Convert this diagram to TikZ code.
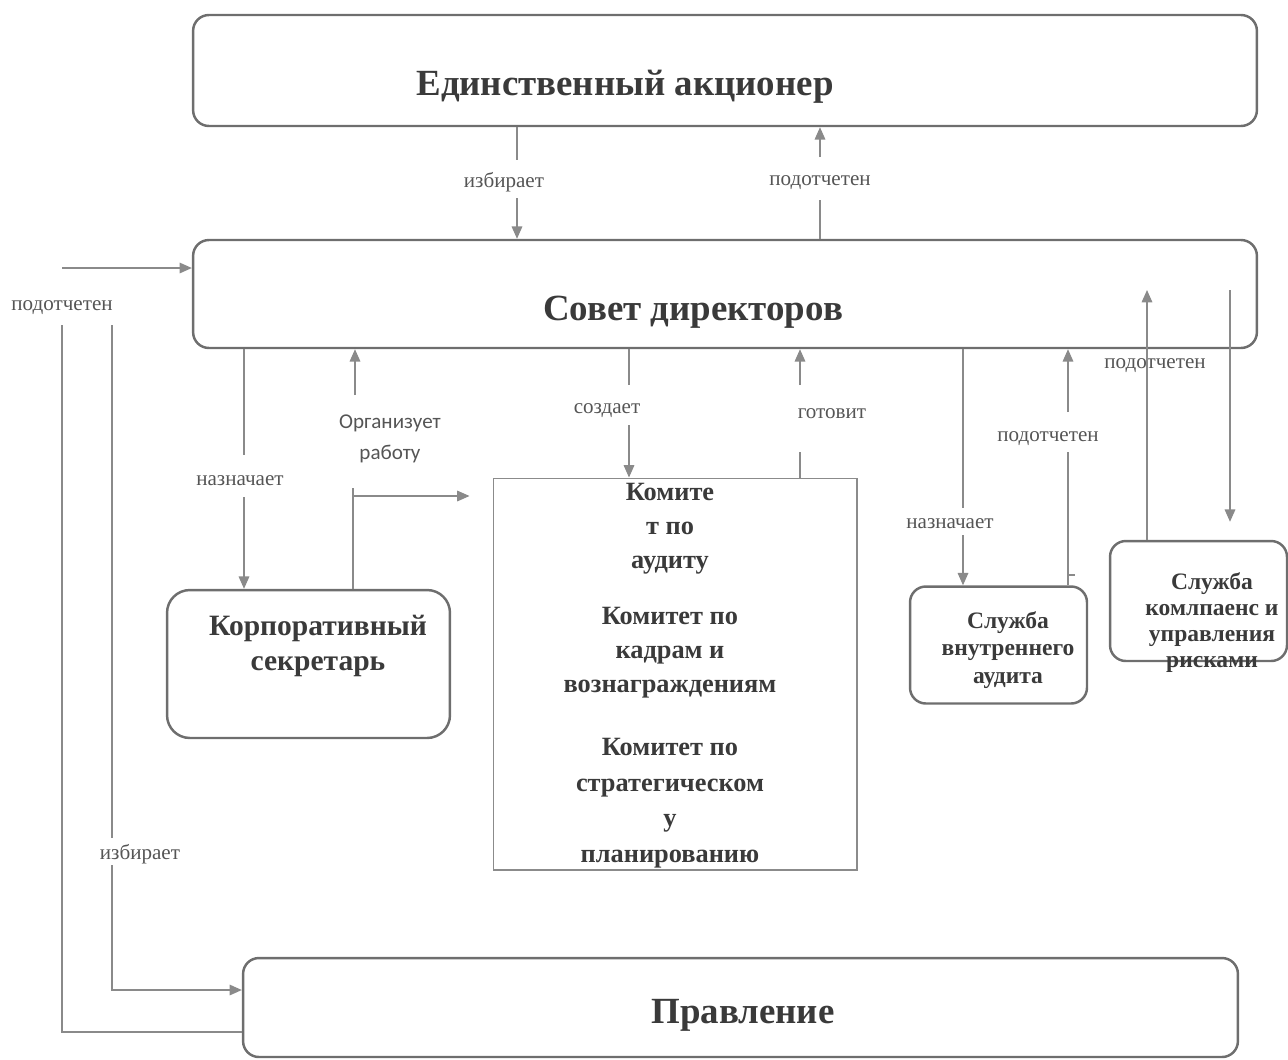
\documentclass[tikz,border=0pt]{standalone}
\usepackage{fontspec}
\setmainfont{Liberation Serif}
\newfontfamily\calib{Carlito}
\usetikzlibrary{arrows.meta}
\definecolor{boxc}{HTML}{6E6E6E}
\definecolor{linec}{HTML}{8A8A8A}
\definecolor{txt}{HTML}{3A3A3A}
\definecolor{labc}{HTML}{555555}
\tikzset{
  rbox/.style={draw=boxc, line width=1.4pt, rounded corners=9pt, inner sep=0pt},
  sqbox/.style={draw=boxc!80, line width=0.6pt, inner sep=0pt},
  title/.style={font=\bfseries\fontsize{21}{26}\selectfont, text=txt, inner sep=0pt},
  kstext/.style={font=\bfseries\fontsize{16.8}{19.8}\selectfont, text=txt, align=center, inner sep=0pt},
  komtext/.style={font=\bfseries\fontsize{15}{19.3}\selectfont, text=txt, align=center, inner sep=0pt},
  komtextb/.style={font=\bfseries\fontsize{15}{20.2}\selectfont, text=txt, align=center, inner sep=0pt},
  smtext/.style={font=\bfseries\fontsize{13.4}{15.8}\selectfont, text=txt, align=center, inner sep=0pt},
  smtextb/.style={font=\bfseries\fontsize{13.4}{14.8}\selectfont, text=txt, align=center, inner sep=0pt},
  lab/.style={font=\fontsize{12}{14}\selectfont, text=labc, inner sep=1pt},
  sanslab/.style={font=\calib\fontsize{12}{17.6}\selectfont, text=labc, align=center, inner sep=1pt},
  ln/.style={draw=linec, line width=0.8pt},
  arr/.style={ln, -{Triangle[length=7pt,width=6pt]}}
}
\begin{document}
\begin{tikzpicture}[x=0.02cm,y=-0.02cm]
\useasboundingbox (0,0) rectangle (1288,1059);

% boxes
\node[rbox, minimum width=21.28cm, minimum height=2.22cm] (sh) at (725,70.5) {};
\node[title] (shT) at (625,87) {Единственный акционер};
\node[rbox, minimum width=21.28cm, minimum height=2.16cm] (sd) at (725,294) {};
\node[title] (sdT) at (693,312) {Совет директоров};
\node[rbox, rounded corners=13pt, minimum width=5.66cm, minimum height=2.96cm] (ks) at (308.5,664) {};
\node[kstext] (ksT) at (318,646) {Корпоративный\\секретарь};
\node[sqbox, minimum width=7.28cm, minimum height=7.84cm] (kom) at (675,674) {};
\node[komtext] (k1) at (670,529) {Комите\\т по\\аудиту};
\node[komtext] (k2) at (670,653) {Комитет по\\кадрам и\\вознаграждениям};
\node[komtextb] (k3) at (670,803) {Комитет по\\стратегическом\\у\\планированию};
\node[rbox, minimum width=3.54cm, minimum height=2.34cm] (sva) at (998.5,645) {};
\node[smtext] (svaT) at (1008,650) {Служба\\внутреннего\\аудита};
\node[rbox, minimum width=3.54cm, minimum height=2.4cm] (skr) at (1198.5,601) {};
\node[smtextb] (skrT) at (1212,623) {Служба\\комлпаенс и\\управления\\рисками};
\node[rbox, minimum width=19.9cm, minimum height=1.98cm] (pr) at (740.5,1007.5) {};
\node[title] (prT) at (743,1015) {Правление};

% labels
\node[lab] (lA) at (504,182) {избирает};
\node[lab] (lB) at (820,183) {подотчетен};
\node[lab] (lC) at (62,308) {подотчетен};
\node[lab] (lD) at (140,854) {избирает};
\node[lab] (lE) at (240,481) {назначает};
\node[sanslab] (lF) at (390,439) {Организует\\работу};
\node[lab] (lG) at (607,411) {создает};
\node[lab] (lH) at (832,414) {готовит};
\node[lab] (lI) at (950,524) {назначает};
\node[lab] (lJ) at (1048,439) {подотчетен};
\node[lab] (lK) at (1155,366) {подотчетен};

% coordinates of free ends
\coordinate (A1) at (517,160); \coordinate (A2) at (517,198);
\coordinate (B1) at (820,200); \coordinate (B2) at (820,157);
\coordinate (C0) at (0,1032);  \coordinate (C1) at (62,325); \coordinate (C2) at (62,268);
\coordinate (D1) at (112,325); \coordinate (D2) at (112,838); \coordinate (D3) at (112,865); \coordinate (D4) at (0,990);
\coordinate (E1) at (244,455); \coordinate (E2) at (244,497);
\coordinate (F1) at (353,488); \coordinate (F2) at (353,496); \coordinate (F4) at (355,395);
\coordinate (G1) at (629,385); \coordinate (G2) at (629,425);
\coordinate (H1) at (800,452); \coordinate (H2) at (800,385);
\coordinate (I1) at (963,508); \coordinate (I2) at (963,535);
\coordinate (J1) at (1068,452); \coordinate (J2) at (1068,412); \coordinate (J3) at (1068,575); \coordinate (J4) at (1075,575);
\coordinate (K1) at (1147,290);
\coordinate (L1) at (1230,290);

% connectors
\draw[ln] (sh.south -| A1) -- (A1);
\draw[arr] (A2) -- (sd.north -| A2);
\draw[ln] (sd.north -| B1) -- (B1);
\draw[arr] (B2) -- (sh.south -| B2);

\draw[ln] (pr.west |- C0) -| (C1);
\draw[arr] (C2) -- (sd.west |- C2);

\draw[ln] (D1) -- (D2);
\draw[arr] (D3) |- (pr.west |- D4);

\draw[ln] (sd.south -| E1) -- (E1);
\draw[arr] (E2) -- (ks.north -| E2);

\draw[ln] (ks.north -| F1) -- (F1);
\draw[arr, shorten >=0.46cm] (F2) -- (kom.west |- F2);
\draw[arr] (F4) -- (sd.south -| F4);

\draw[ln] (sd.south -| G1) -- (G1);
\draw[arr] (G2) -- (kom.north -| G2);

\draw[ln] (kom.north -| H1) -- (H1);
\draw[arr] (H2) -- (sd.south -| H2);

\draw[ln] (sd.south -| I1) -- (I1);
\draw[arr] (I2) -- (sva.north -| I2);

\draw[ln] (sva.north -| J1) -- (J1);
\draw[ln] (J3) -- (J4);
\draw[arr] (J2) -- (sd.south -| J2);

\draw[arr] (skr.north -| K1) -- (K1);
\draw[arr, shorten >=0.36cm] (L1) -- (skr.north -| L1);
\end{tikzpicture}
\end{document}
